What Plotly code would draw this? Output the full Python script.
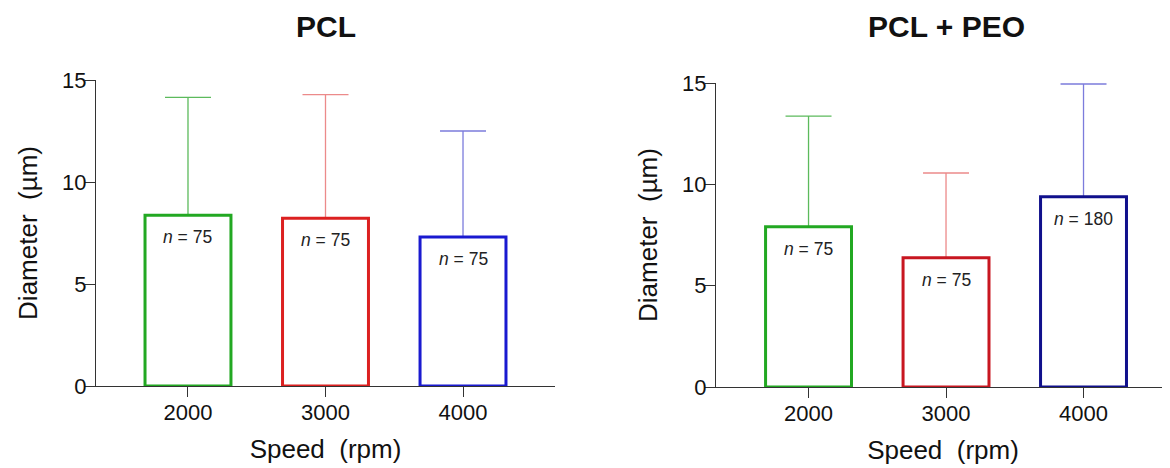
import plotly.graph_objects as go

categories = ["2000", "3000", "4000"]
n_labels_pcl = ["75", "75", "75"]
n_labels_peo = ["75", "75", "180"]

# PCL panel
pcl_mean = [8.37, 8.22, 7.30]
pcl_sd = [5.78, 6.06, 5.20]
# PCL + PEO panel
peo_mean = [7.91, 6.38, 9.39]
peo_sd = [5.46, 4.18, 5.56]

panel_titles = ["PCL", "PCL + PEO"]
y_ticks = [0, 5, 10, 15]

line_colors_pcl = ["#22a822", "#dc2020", "#1a1ad0"]
line_colors_peo = ["#22a822", "#c81620", "#10108c"]
err_colors = ["#5cba5c", "#ec8a8a", "#7c7cdc"]

FONT = "Liberation Sans, Arial, sans-serif"
OFF = 8  # page body margin
W, H = 1170 - OFF, 468 - OFF

def px_x(v):
    return (v - OFF) / W

def px_y(v):
    return (H - (v - OFF)) / H

fig = go.Figure()

def add_panel(means, sds, lcolors, nlabels, xa, ya):
    for i, cat in enumerate(categories):
        # error bar carrier (invisible bar)
        fig.add_trace(go.Bar(
            x=[cat], y=[means[i]], width=0.625,
            marker=dict(color="rgba(0,0,0,0)", line=dict(width=0)),
            error_y=dict(type="data", symmetric=False, array=[sds[i]], arrayminus=[0],
                         color=err_colors[i], thickness=1.3, width=23),
            xaxis=xa, yaxis=ya, showlegend=False, hoverinfo="skip"))
        # visible bar outline
        fig.add_trace(go.Bar(
            x=[cat], y=[means[i]], width=0.625,
            marker=dict(color="white", line=dict(color=lcolors[i], width=3)),
            xaxis=xa, yaxis=ya, showlegend=False, hoverinfo="skip"))
        fig.add_annotation(x=i, y=means[i], xref=xa, yref=ya,
                           text="<i>n</i> = " + nlabels[i], showarrow=False,
                           yanchor="top", yshift=-10,
                           font=dict(family=FONT, size=17.5, color="#222"))

add_panel(pcl_mean, pcl_sd, line_colors_pcl, n_labels_pcl, "x", "y")
add_panel(peo_mean, peo_sd, line_colors_peo, n_labels_peo, "x2", "y2")

axis_common = dict(showline=True, linecolor="#333", linewidth=1.4, ticks="outside",
                   tickcolor="#333", tickwidth=1.3, ticklen=10, showgrid=False,
                   zeroline=False, automargin=False,
                   tickfont=dict(family=FONT, size=22, color="#111"))
title_font = dict(family=FONT, size=26, color="#111")

x1d = [px_x(96), px_x(555)]
x2d = [px_x(716), 1.0]
y1d = [px_y(386), px_y(80)]
y2d = [px_y(387), px_y(83)]

fig.update_layout(
    width=W, height=H, margin=dict(l=0, r=0, t=0, b=0, autoexpand=False),
    paper_bgcolor="white", plot_bgcolor="white", barmode="overlay",
    xaxis=dict(domain=x1d, range=[-0.669, 2.669], type="category", anchor="y",
               ticklabelstandoff=-4,
               title=dict(text="Speed  (rpm)", font=title_font, standoff=16),
               **axis_common),
    yaxis=dict(domain=y1d, range=[0, 15], tickvals=y_ticks, anchor="x",
               ticklabelstandoff=-6,
               title=dict(text="Diameter  (µm)", font=title_font, standoff=16),
               **axis_common),
    xaxis2=dict(domain=x2d, range=[-0.673, 2.629], type="category", anchor="y2",
                ticklabelstandoff=-4,
                title=dict(text="Speed  (rpm)", font=title_font, standoff=16),
                **axis_common),
    yaxis2=dict(domain=y2d, range=[0, 15], tickvals=y_ticks, anchor="x2",
                ticklabelstandoff=-6,
                title=dict(text="Diameter  (µm)", font=title_font, standoff=16),
                **axis_common),
)

for xc, txt in [(px_x((96 + 555) / 2), panel_titles[0]), (px_x((716 + 1176) / 2), panel_titles[1])]:
    fig.add_annotation(x=xc, y=px_y(27), xref="paper", yref="paper", text="<b>" + txt + "</b>",
                       showarrow=False, xanchor="center", yanchor="middle",
                       font=dict(family=FONT, size=30, color="#111"))

fig.write_html("out.html")
